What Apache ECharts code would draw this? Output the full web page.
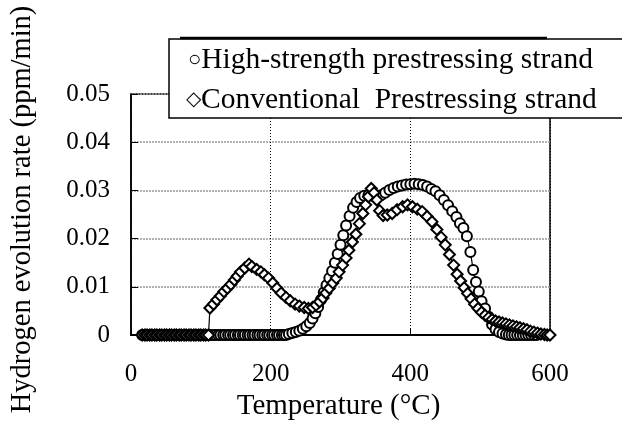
<!DOCTYPE html>
<html>
<head>
<meta charset="utf-8">
<script src="https://cdn.jsdelivr.net/npm/echarts@6/dist/echarts.min.js"></script>
<style>html,body{margin:0;padding:0;background:#fff}#c{width:622px;height:429px}</style>
</head>
<body>
<div id="c"></div>
<script>
const FONT = '"Liberation Serif","Times New Roman",serif';
const xTicks = [0, 200, 400, 600];
const yTicks = [0, 0.01, 0.02, 0.03, 0.04, 0.05];
const seriesNames = ['High-strength prestressing strand', 'Conventional  Prestressing strand'];

const highTemp = [16,20,23,27,30,34,37,41,44,48,51,55,58,62,65,69,72,76,79,83,86,90,93,97,100,104,107,111,114,118,121,125,128,132,135,139,142,146,149,153,156,160,163,167,170,174,177,181,184,188,191,195,198,202,205,209,212,216,219,222,
226,231,236,241,246,251,256,260,264,268,272,276,280,284,288,292,296,300,304,308,313,318,323,328,334,340,346,352,358,364,370,376,382,388,394,400,406,412,418,424,430,436,442,448,454,460,466,471,476,481,486,490,494,498,502,507,512,517,522,527,532,537,541,545,549,553,557,561,565,569,573,577,581];
const highRate = [0,0,0,0,0,0,0,0,0,0,0,0,0,0,0,0,0,0,0,0,0,0,0,0,0,0,0,0,0,0,0,0,0,0,0,0,0,0,0,0,0,0,0,0,0,0,0,0,0,0,0,0,0,0,0,0,0,0,0,0,
0.0002,0.0004,0.0006,0.0009,0.0013,0.0018,0.0025,0.0034,0.0045,0.0058,0.0073,0.0088,0.0103,0.0118,0.0133,0.015,0.0168,0.0187,0.0207,0.0227,0.0247,0.0264,0.0276,0.0284,0.0289,0.029,0.0289,0.0288,0.029,0.0295,0.0301,0.0305,0.0308,0.031,0.0312,0.0313,0.0314,0.0313,0.0311,0.0308,0.0303,0.0298,0.029,0.028,0.0269,0.0257,0.0245,0.0232,0.0222,0.0205,0.0172,0.0135,0.011,0.009,0.007,0.0055,0.0038,0.0022,0.0012,0.0006,0.0003,0.0001,0,0,0,0,0,0,0,0,0,0,0];

const convTemp = [16,20,23,27,30,34,37,41,44,48,51,55,58,62,65,69,72,76,79,83,86,90,93,97,100,104,107,111,
113,118,123,128,133,138,143,148,152,157,163,169,173,180,186,191,197,203,209,215,222,228,235,241,248,254,260,265,270,275,279,284,289,294,298,303,308,312,317,322,327,332,336,340,344,348,352,356,361,367,374,381,389,396,403,410,417,424,431,438,444,450,456,462,467,472,477,482,487,492,497,502,507,512,517,522,527,532,537,542,547,552,557,562,567,572,577,582,587,592,596,600];
const convRate = [0,0,0,0,0,0,0,0,0,0,0,0,0,0,0,0,0,0,0,0,0,0,0,0,0,0,0,0,
0.0056,0.0064,0.0073,0.0081,0.009,0.0097,0.0105,0.0114,0.0122,0.0131,0.0139,0.0147,0.0142,0.0136,0.0131,0.0125,0.0118,0.0108,0.0097,0.0087,0.0078,0.0071,0.0064,0.006,0.0057,0.0055,0.0057,0.0062,0.0069,0.0077,0.0087,0.0097,0.0108,0.0118,0.0131,0.0145,0.016,0.0176,0.0193,0.0209,0.0231,0.0252,0.027,0.0287,0.0304,0.0295,0.028,0.0258,0.0248,0.0249,0.0252,0.026,0.0266,0.027,0.0266,0.0261,0.0256,0.0246,0.0235,0.0219,0.0203,0.0187,0.0167,0.0145,0.0126,0.0112,0.0098,0.0086,0.0075,0.0064,0.0055,0.0047,0.0041,0.0036,0.0032,0.0029,0.0027,0.0025,0.0023,0.0021,0.0019,0.0017,0.0015,0.0013,0.0011,0.0008,0.0006,0.0004,0.0002,0.0001,0,0];

const zip = (a, b) => a.map((t, i) => [t, b[i]]);
const chart = echarts.init(document.getElementById('c'), null, {renderer: 'canvas'});
const markerStyle = {color: '#fff', borderColor: '#000', borderWidth: 2};
chart.setOption({
  animation: false,
  backgroundColor: '#fff',
  grid: {left: 129, right: 72, top: 94, bottom: 94, show: true, borderColor: '#000', borderWidth: 1.5, backgroundColor: 'transparent'},
  xAxis: {
    type: 'value', min: xTicks[0], max: xTicks[xTicks.length - 1], interval: 200,
    name: 'Temperature (°C)', nameLocation: 'middle', nameGap: 55,
    nameTextStyle: {fontFamily: FONT, fontSize: 29, color: '#000', padding: [0, 4, 0, 0]},
    axisLine: {show: true, lineStyle: {color: '#000', width: 2}},
    axisTick: {show: true, inside: true, length: 7, lineStyle: {color: '#000', width: 1}},
    axisLabel: {fontFamily: FONT, fontSize: 25, color: '#000', margin: 27},
    splitLine: {show: true, lineStyle: {color: '#000', width: 1, type: [1, 2]}}
  },
  yAxis: {
    type: 'value', min: yTicks[0], max: yTicks[yTicks.length - 1], interval: 0.01,
    name: 'Hydrogen evolution rate (ppm/min)', nameLocation: 'middle', nameGap: 94,
    nameTextStyle: {fontFamily: FONT, fontSize: 28.5, color: '#000', padding: [0, 0, 0, 10]},
    axisLine: {show: true, lineStyle: {color: '#000', width: 1.5}},
    axisTick: {show: true, inside: true, length: 7, lineStyle: {color: '#000', width: 1}},
    axisLabel: {fontFamily: FONT, fontSize: 25, color: '#000', margin: 21,
      formatter: v => v === 0 ? '0' : v.toFixed(2)},
    splitLine: {show: true, lineStyle: {color: '#999', width: 1.5, type: [2, 1]}}
  },
  series: [
    {name: seriesNames[0], type: 'line', data: zip(highTemp, highRate), symbol: 'circle', symbolSize: 10,
     showAllSymbol: true, itemStyle: markerStyle, lineStyle: {color: '#000', width: 1.2}, z: 3},
    {name: seriesNames[1], type: 'line', data: zip(convTemp, convRate), symbol: 'diamond', symbolSize: 11,
     showAllSymbol: true, itemStyle: markerStyle, lineStyle: {color: '#000', width: 1.2}, z: 4}
  ],
  graphic: [
    {type: 'rect', z: 100, shape: {x: 169, y: 39, width: 480, height: 79},
     style: {fill: '#fff', stroke: '#000', lineWidth: 1.5}},
    {type: 'line', z: 101, shape: {x1: 180, y1: 38, x2: 547, y2: 38}, style: {stroke: '#000', lineWidth: 2.5}},
    {type: 'text', z: 102, x: 188, y: 60,
     style: {text: '{m|○}' + seriesNames[0], fontFamily: FONT, fontSize: 29.5, fill: '#000', verticalAlign: 'middle',
       rich: {m: {fontFamily: FONT, fontSize: 22, fill: '#000'}}}},
    {type: 'text', z: 102, x: 186, y: 100,
     style: {text: '{m|◇}' + seriesNames[1], fontFamily: FONT, fontSize: 29.5, fill: '#000', verticalAlign: 'middle',
       rich: {m: {fontFamily: FONT, fontSize: 20, fill: '#000'}}}}
  ]
});
</script>
</body>
</html>
